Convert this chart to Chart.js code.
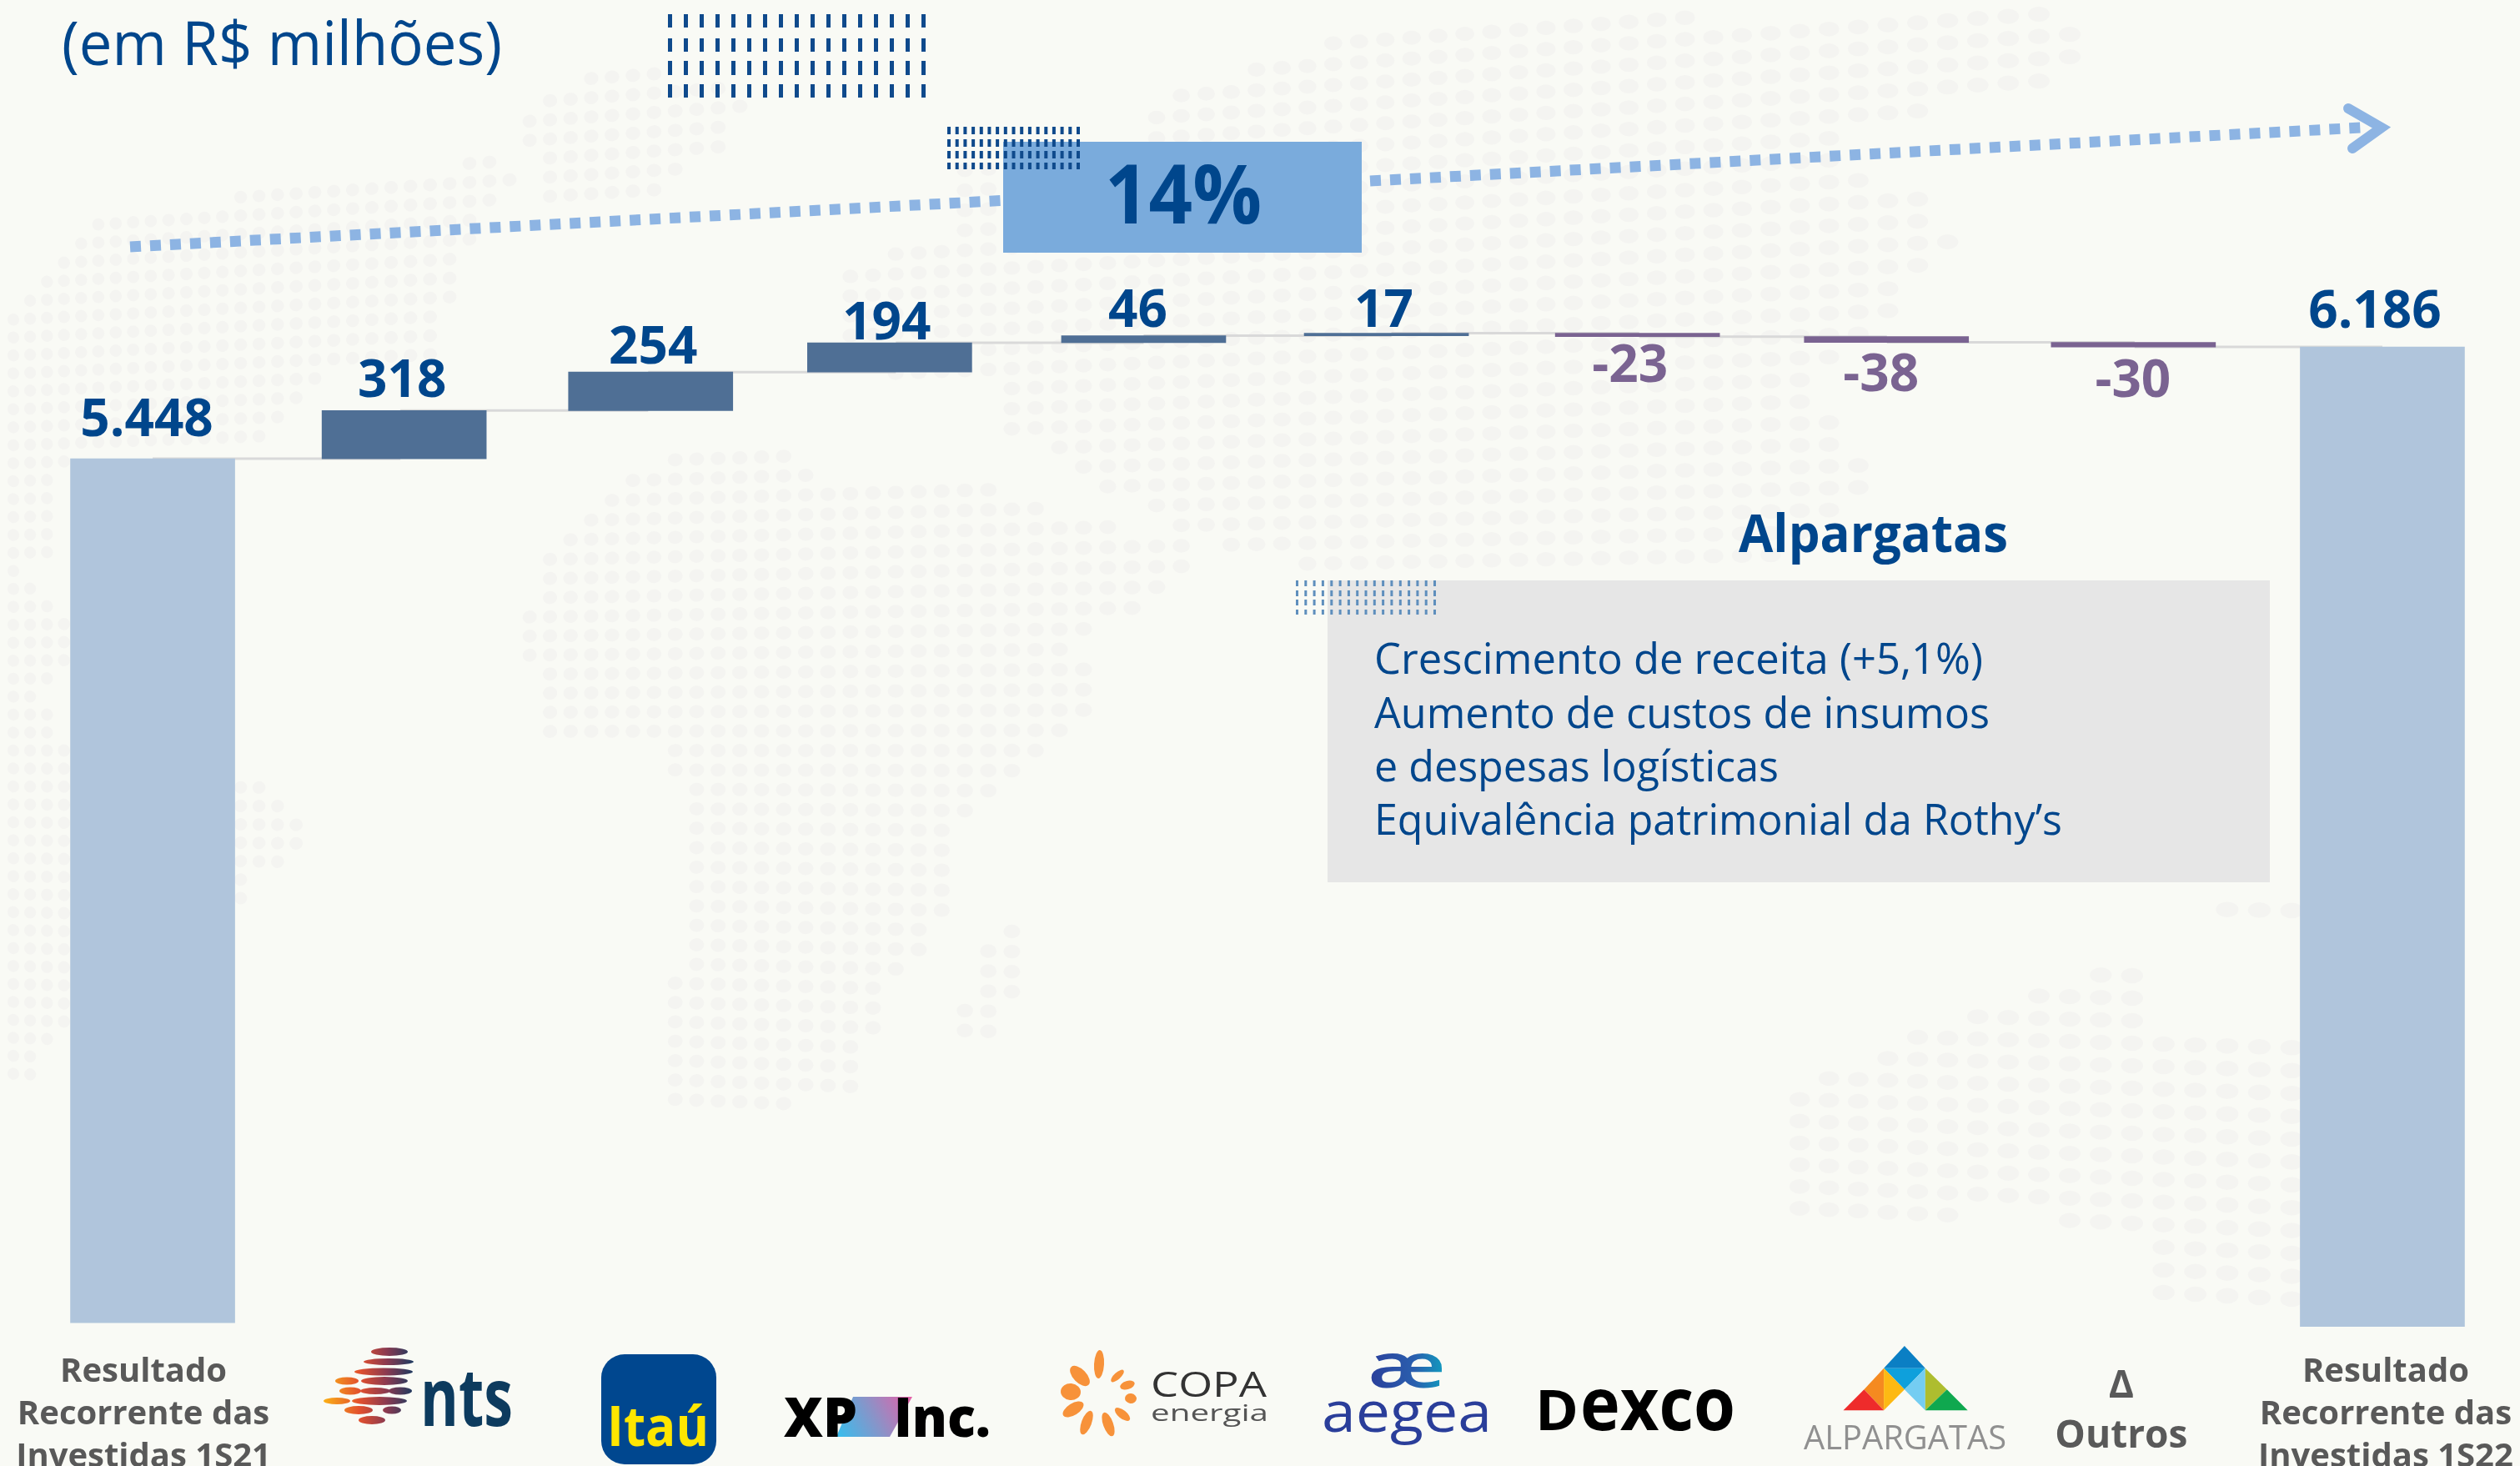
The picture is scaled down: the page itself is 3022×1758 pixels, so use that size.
<!DOCTYPE html>
<html lang="pt-BR">
<head>
<meta charset="utf-8">
<title>Resultado Recorrente das Investidas</title>
<script src="https://cdn.jsdelivr.net/npm/chart.js@4"></script>
<style>
html,body{margin:0;padding:0;width:3022px;height:1758px;overflow:hidden;background:#f9faf5}
#map,#deco{position:absolute;left:0;top:0;width:3022px;height:1758px}
#chart{position:absolute;left:0;top:0}
svg text{font-family:"Open Sans",sans-serif}
</style>
</head>
<body>
<svg id="map" viewBox="0 0 3022 1758"></svg>
<canvas id="chart" width="3022" height="1758"></canvas>
<svg id="deco" viewBox="0 0 3022 1758"></svg>
<script>
// ---------- chart data ----------
const categories = ['Resultado Recorrente das Investidas 1S21','NTS','Itaú','XP Inc.','Copa Energia','Aegea','Dexco','Alpargatas','Outros','Resultado Recorrente das Investidas 1S22'];
const values = [5448, 318, 254, 194, 46, 17, -23, -38, -30, 6186];
const tickLabels = [['Resultado','Recorrente das','Investidas 1S21'],'','','','','','','',['Δ','Outros'],['Resultado','Recorrente das','Investidas 1S22']];
const boxLines = ['Crescimento de receita (+5,1%)','Aumento de custos de insumos','e despesas logísticas','Equivalência patrimonial da Rothy’s'];

// ---------- waterfall built from the values ----------
const lastIndex = values.length - 1;
const running = [];
values.forEach((v,i)=>{ running.push(i===0||i===lastIndex ? v : running[i-1]+v); });
const AXIS_MIN = -284, AXIS_MAX = 8477, FIRST_FLOOR = -257;
const floating = values.map((v,i)=>{
  if(i===0) return [FIRST_FLOOR, v];
  if(i===lastIndex) return [AXIS_MIN, v];
  return [Math.min(running[i-1],running[i]), Math.max(running[i-1],running[i])];
});
const NAVY='#00468c', TOTAL='#b0c5dc', UP='#4f6f95', DOWN='#7a6391', CONNECT='#d9d9d9';
const barColors = values.map((v,i)=> (i===0||i===lastIndex)?TOTAL:(v>=0?UP:DOWN));
const connectors = values.slice(0,-1).map((_,i)=>({
  type:'line', order:2, borderColor:CONNECT, borderWidth:3, pointRadius:0, fill:false, tension:0,
  spanGaps:false, data:values.map((_,j)=> (j===i||j===i+1)?running[i]:null)
}));

// layout nudges (px), kept apart from the data
const barDx=[0,4.5,3,-7.5,0,-6,-2,-0.5,-1.5,0];
const labelDx=[-7,2,6,-11,-7,-9,-11,-7,-2,-9];
const labelDy=[27,16,10,4,10.6,7.5,54.3,58.4,60,23];
const tickDx=[-11,0,0,0,0,0,0,0,-16,4];
const tickDy=[0,0,0,0,0,0,0,0,13,0];

const barNudge={id:'barNudge',afterDatasetsUpdate(chart){
  chart.getDatasetMeta(0).data.forEach((bar,i)=>{bar.x+=barDx[i];});
}};
const valueLabels={id:'valueLabels',afterDatasetsDraw(chart){
  const {ctx,scales:{x,y}}=chart;
  ctx.save();ctx.font='700 62px "Open Sans"';ctx.textAlign='center';ctx.textBaseline='alphabetic';
  values.forEach((v,i)=>{
    const neg=v<0;
    ctx.fillStyle=neg?DOWN:NAVY;
    const edge=y.getPixelForValue(neg?floating[i][0]:floating[i][1]);
    const txt=String(v).replace(/^(\d)(\d{3})$/,'$1.$2');
    ctx.fillText(txt,x.getPixelForValue(i)+labelDx[i],neg?edge+labelDy[i]:edge-labelDy[i]);
  });
  ctx.restore();
}};
const tickNudge={id:'tickNudge',beforeDraw(chart){
  const x=chart.scales.x;
  x.getLabelItems(chart.chartArea).forEach((it,i)=>{
    if(it._n) return; it._n=1;
    it.options.translation[0]+=tickDx[i];it.options.translation[1]+=tickDy[i];
  });
}};

new Chart(document.getElementById('chart'),{
  type:'bar',
  data:{labels:categories,datasets:[
    {type:'bar',order:1,data:floating,backgroundColor:barColors,borderWidth:0,barThickness:197,borderSkipped:false},
    ...connectors
  ]},
  plugins:[barNudge,valueLabels,tickNudge],
  options:{
    responsive:false,animation:false,
    layout:{padding:{left:34.5,right:16.5,top:0,bottom:0}},
    plugins:{legend:{display:false},tooltip:{enabled:false},title:{display:false}},
    scales:{
      x:{type:'category',offset:true,grid:{display:false},border:{display:false},
        afterFit(s){s.height=167;s.paddingLeft=0;s.paddingRight=0;},
        ticks:{autoSkip:false,maxRotation:0,minRotation:0,padding:21,color:'#595959',
          font(ctx){return ctx.index===8
            ?{family:'"Open Sans"',size:46,weight:'700',lineHeight:1.3}
            :{family:'"Open Sans"',size:40,weight:'700',lineHeight:1.275};},
          callback(v,i){return tickLabels[i];}}},
      y:{display:false,min:AXIS_MIN,max:AXIS_MAX,grid:{display:false}}
    }
  }
});

// ---------- decoration ----------
function T(x,y,s,size,weight,color,len,anchor){
  return `<text x="${x}" y="${y}" font-size="${size}" font-weight="${weight}" fill="${color}"`+
    (len?` textLength="${len}" lengthAdjust="spacingAndGlyphs"`:'')+(anchor?` text-anchor="${anchor}"`:'')+`>${s}</text>`;
}
function hatch(x0,x1,rows,n,w,color,op){
  let o='';const st=(x1-x0-w)/(n-1);
  rows.forEach(r=>{for(let i=0;i<n;i++)o+=`<rect x="${(x0+i*st).toFixed(1)}" y="${r[0]}" width="${w}" height="${r[1]-r[0]}" fill="${color}"${op?` opacity="${op}"`:''}/>`;});
  return o;
}
const ARROW='#8db4e3';
let d='<defs>'+
 '<linearGradient id="ntsG" gradientUnits="userSpaceOnUse" x1="388" x2="496" y1="0" y2="0"><stop offset="0" stop-color="#fbb016"/><stop offset=".4" stop-color="#e2502e"/><stop offset=".7" stop-color="#8a3a50"/><stop offset="1" stop-color="#1c3a60"/></linearGradient>'+
 '<linearGradient id="xpG" gradientUnits="userSpaceOnUse" x1="1003" y1="1723" x2="1094" y2="1675"><stop offset="0" stop-color="#35bfee"/><stop offset=".5" stop-color="#8a93c8"/><stop offset="1" stop-color="#e75fa6"/></linearGradient>'+
 '<linearGradient id="aeG" gradientUnits="userSpaceOnUse" x1="1640" x2="1734" y1="0" y2="0"><stop offset="0" stop-color="#2a3e9a"/><stop offset=".6" stop-color="#2a5fae"/><stop offset="1" stop-color="#0f9fc0"/></linearGradient>'+
 '</defs>';
// title
d+=T(74,78,'(em R$ milhões)',74,400,NAVY,528);
// hatching top
d+=hatch(801,1110,[[17,33],[46,62],[73,90],[101,117]],17,5,'#0f4a8c');
// trend arrow
d+=`<line x1="156" y1="296" x2="1201" y2="240.5" stroke="${ARROW}" stroke-width="13" stroke-dasharray="13 11"/>`;
d+=`<line x1="1643" y1="217" x2="2832" y2="153" stroke="${ARROW}" stroke-width="13" stroke-dasharray="13 11"/>`;
d+=`<polyline points="2816,130 2856,153 2821,178" fill="none" stroke="${ARROW}" stroke-width="12" stroke-linecap="round" stroke-linejoin="miter"/>`;
// 14% box
d+=`<rect x="1203" y="170" width="430" height="133" fill="#7aabdc"/>`;
d+=T(1325,268,'14%',98,700,NAVY,188);
d+=hatch(1136,1295,[[152,161],[167,176],[181,190],[195,203]],17,4,'#0f4a8c');
// Alpargatas note
d+=T(2085,662,'Alpargatas',63,700,NAVY,323);
d+=`<rect x="1592" y="696" width="1130" height="362" fill="#e6e6e6"/>`;
d+=hatch(1554,1722,[[696,703],[708,715],[719,726],[731,737]],17,3,'#5f8fbd');
const bx=[[808,730],[873,738],[937,485],[1001,825]];
boxLines.forEach((s,i)=>{d+=T(1648,bx[i][0],s,52,400,NAVY,bx[i][1]);});

// --- logos ---
// nts
[[467,1621,22,5],[466,1633,30,4],[460,1645,35,4.5],[416,1656,14,4.5],[461,1656,28,5],[420,1668,13,4.5],[450,1668,18,4],[480,1668,14,4.5],[404,1680,16,4],[455,1680,33,5],[430,1691,17,5],[470,1691,11,4.5],[446,1703,16,5]]
 .forEach(e=>{d+=`<ellipse cx="${e[0]}" cy="${e[1]}" rx="${e[2]}" ry="${e[3]}" fill="url(#ntsG)"/>`;});
d+=T(504,1710,'nts',97,700,'#0d3b5e',111);
// Itaú
d+=`<rect x="721" y="1624" width="138" height="132" rx="28" fill="#00478f"/>`;
d+=T(728,1734,'Itaú',66,700,'#ffe600',122);
// XP Inc.
d+=`<polygon points="1023,1675 1094,1675 1067,1723 1003,1723" fill="url(#xpG)"/>`;
d+=T(940,1723,'XP',66,800,'#000',88);
d+=T(1072,1723,'Inc.',66,800,'#000',116);
// Copa energia
const cx=1316,cy=1672;
[[1318,1636,6,17],[1340,1650,4,10],[1352,1661,5,9],[1356,1677,6,7],[1346,1696,5,11],[1329,1708,6,15],[1303,1706,6,15],[1287,1690,7,14],[1284,1669,10,12],[1295,1650,8,15]]
 .forEach(r=>{const a=Math.atan2(r[0]-cx,cy-r[1])*180/Math.PI;
   d+=`<ellipse cx="${r[0]}" cy="${r[1]}" rx="${r[2]}" ry="${r[3]}" fill="#f7923a" transform="rotate(${a.toFixed(1)} ${r[0]} ${r[1]})"/>`;});
d+=T(1380,1675,'COPA',42,400,'#333',139);
d+=T(1380,1704,'energia',28,400,'#555',141);
// aegea
d+=T(1640,1664,'æ',75,600,'url(#aeG)',94);
d+=T(1585,1717,'aegea',67,500,'#2a3e9a',204);
// Dexco
d+=T(1841,1715,'D',66,700,'#000',52);
d+=T(1895,1715,'exco',88,700,'#000',186);
// Alpargatas
const ax=z=>(1250+z*1.13).toFixed(1), ay=z=>(1558+z/3).toFixed(1);
[[[915,168],[893,248],[937,248],'#0b7fc4'],[[893,248],[937,248],[915,325],'#0ea0dc'],
 [[893,248],[872,325],[893,400],'#f58a20'],[[893,248],[915,325],[893,400],'#fdb913'],
 [[937,248],[915,325],[937,400],'#74cdf2'],[[937,248],[960,325],[937,400],'#aebd2f'],
 [[872,325],[850,400],[893,400],'#ee2b2b'],[[960,325],[982,400],[937,400],'#0fa84f']]
 .forEach(p=>{d+=`<polygon points="${p.slice(0,3).map(q=>ax(q[0])+','+ay(q[1])).join(' ')}" fill="${p[3]}"/>`;});
d+=T(2163,1738,'ALPARGATAS',40,400,'#909090',243);
document.getElementById('deco').innerHTML=d;

// faint dotted world map (decorative background)
const land=[
 [[134,252],[340,230],[485,216],[593,185],[612,216],[574,270],[548,314],[542,368],[517,457],[447,430],[370,466],[312,528],[85,540],[0,535],[0,400],[20,370],[40,340],[70,310]],
 [[0,530],[85,530],[60,660],[30,680],[85,760],[85,800],[50,830],[85,900],[85,1230],[30,1300],[0,1310]],
 [[281,930],[315,935],[372,985],[350,1030],[300,1060],[281,1090]],
 [[740,75],[900,110],[905,130],[850,190],[770,240],[660,250],[625,135]],
 [[800,545],[960,545],[1000,590],[1180,585],[1290,620],[1430,650],[1420,690],[1345,740],[1260,770],[1325,820],[1260,900],[1200,960],[1130,1000],[1130,1110],[1060,1200],[1030,1310],[900,1330],[800,1325],[790,1240],[830,1100],[835,1000],[800,900],[650,880],[625,752],[665,650],[765,570]],
 [[1220,1110],[1240,1130],[1190,1245],[1145,1240],[1170,1150]],
 [[1005,320],[1130,280],[1150,200],[1180,180],[1350,190],[1400,116],[1590,50],[1750,25],[2000,20],[2480,10],[2490,90],[2310,130],[2200,170],[2250,210],[2315,240],[2350,290],[2290,330],[2295,360],[2175,450],[2206,520],[2240,554],[2214,625],[2116,680],[1857,690],[1786,680],[1553,680],[1400,630],[1330,590],[1200,510],[1200,450],[1100,470],[1010,400]],
 [[2143,1308],[2261,1259],[2365,1210],[2541,1156],[2587,1170],[2587,1223],[2652,1254],[2760,1250],[2760,1580],[2567,1562],[2567,1482],[2482,1486],[2470,1450],[2248,1464],[2147,1460]],
 [[2635,1070],[2750,1070],[2750,1116],[2635,1116]]
];
function inside(p,x,y){let c=false;for(let i=0,j=p.length-1;i<p.length;j=i++){
  if((p[i][1]>y)!==(p[j][1]>y)&&x<(p[j][0]-p[i][0])*(y-p[i][1])/(p[j][1]-p[i][1])+p[i][0])c=!c;}return c;}
let m='';
for(let x=-4;x<3022;){
  const f=x/3022,s=20+21*f,r=21.5+6.5*f;
  for(let k=-45;k<45;k++){
    const y=900+k*r;
    if(y<0||y>1758)continue;
    if(land.some(p=>inside(p,x,y))){
      const a=x<1000?-28*(1-x/1000):0;
      m+=`<ellipse cx="${x.toFixed(1)}" cy="${y.toFixed(1)}" rx="${(s*.35).toFixed(1)}" ry="${(r*.34).toFixed(1)}" fill="#f4f4f1"`+(a?` transform="rotate(${a.toFixed(1)} ${x.toFixed(1)} ${y.toFixed(1)})"`:'')+`/>`;
    }
  }
  x+=s;
}
document.getElementById('map').innerHTML=m;
</script>
</body>
</html>
